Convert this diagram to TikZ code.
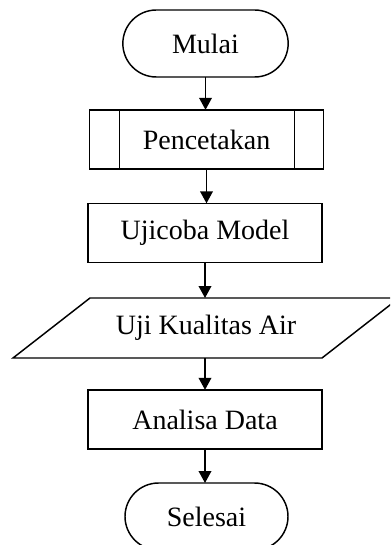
\documentclass[tikz,border=0pt]{standalone}
\usepackage{fontspec}
\setmainfont{Liberation Serif}
\usetikzlibrary{shapes.misc,arrows.meta}

\tikzset{every picture/.style={line width=1.1pt}}
\tikzset{
  terminal/.style={rounded rectangle, draw, inner sep=0pt, outer sep=0pt, font=\fontsize{21}{25}\selectfont},
  proses/.style={rectangle, draw, inner sep=0pt, outer sep=0pt, minimum width=175.5pt, minimum height=44.5pt, font=\fontsize{21}{25}\selectfont},
  teks/.style={rectangle, inner sep=0pt, outer sep=0pt, minimum width=175.5pt, minimum height=45pt, font=\fontsize{21}{25}\selectfont},
  alur/.style={-{Triangle[length=9pt,width=9.5pt]}}
}

\begin{document}
\begin{tikzpicture}[x=0.75pt,y=0.75pt,yscale=-1,xscale=1]
	\clip (0,0) rectangle (390,545); %set diagram size 390 x 545

	%Shape: Terminal [id:mulai]
	\node [terminal, minimum width=124pt, minimum height=50.25pt] (mulai) at (205.5,43.5) {Mulai};
	%Shape: Predefined Process [id:pencetakan]
	\node [proses] (pencetakan) at (206.5,139.5) {Pencetakan};
	\draw ([xshift=22.5pt]pencetakan.north west) -- ([xshift=22.5pt]pencetakan.south west) ;
	\draw ([xshift=-21.75pt]pencetakan.north east) -- ([xshift=-21.75pt]pencetakan.south east) ;
	%Shape: Rectangle [id:ujicoba]
	\node [proses] (ujicoba) at (205,233) {Ujicoba Model};
	%Shape: Data [id:ujiair]
	\draw (90,298) -- (399,298) -- (322,358) -- (13,358) -- cycle ;
	% Text Node
	\node [teks] (ujiair) at (206,328) {Uji Kualitas Air};
	%Shape: Rectangle [id:analisa]
	\node [proses] (analisa) at (205,419.5) {Analisa Data};
	%Shape: Terminal [id:selesai]
	\node [terminal, minimum width=122.25pt, minimum height=50.25pt] (selesai) at (206.5,516.5) {Selesai};

	%Straight Lines
	\draw [alur] (mulai.south) -- (mulai.south |- pencetakan.north) ;
	\draw [alur] (pencetakan.south) -- (pencetakan.south |- ujicoba.north) ;
	\draw [alur] (ujicoba.south) -- (ujicoba.south |- ujiair.north) ;
	\draw [alur] (ujiair.south -| ujicoba.south) -- (ujicoba.south |- analisa.north) ;
	\draw [alur] (analisa.south) -- (analisa.south |- selesai.north) ;

\end{tikzpicture}
\end{document}
